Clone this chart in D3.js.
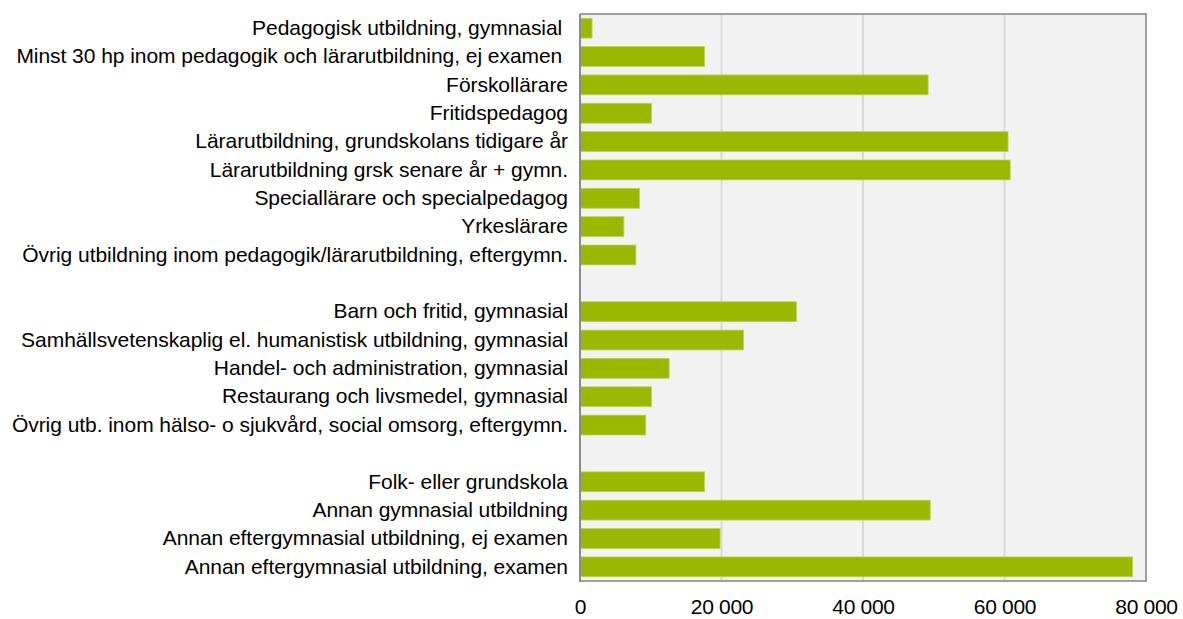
<!DOCTYPE html>
<html><head><meta charset="utf-8">
<script src="https://cdn.jsdelivr.net/npm/d3@7"></script>
<style>
html,body{margin:0;padding:0;background:#fff;}
svg{display:block;font-family:"Liberation Sans",Arial,sans-serif;}
</style></head>
<body><div id="chart"></div>
<script>
// Group 1: pedagogic education
const group1Labels = [
  "Pedagogisk utbildning, gymnasial ",
  "Minst 30 hp inom pedagogik och lärarutbildning, ej examen ",
  "Förskollärare",
  "Fritidspedagog",
  "Lärarutbildning, grundskolans tidigare år",
  "Lärarutbildning grsk senare år + gymn.",
  "Speciallärare och specialpedagog",
  "Yrkeslärare",
  "Övrig utbildning inom pedagogik/lärarutbildning, eftergymn."
];
const group1Values = [1700, 17600, 49200, 10100, 60500, 60800, 8400, 6200, 7900];

// Group 2: other related education
const group2Labels = [
  "Barn och fritid, gymnasial",
  "Samhällsvetenskaplig el. humanistisk utbildning, gymnasial",
  "Handel- och administration, gymnasial",
  "Restaurang och livsmedel, gymnasial",
  "Övrig utb. inom hälso- o sjukvård, social omsorg, eftergymn."
];
const group2Values = [30600, 23100, 12600, 10100, 9300];

// Group 3: general education
const group3Labels = [
  "Folk- eller grundskola",
  "Annan gymnasial utbildning",
  "Annan eftergymnasial utbildning, ej examen",
  "Annan eftergymnasial utbildning, examen"
];
const group3Values = [17600, 49500, 19800, 78100];

const xTicks = [0, 20000, 40000, 60000, 80000];

(function(){
// Build slot list (gaps between groups)
const rows = [];
group1Labels.forEach((l,i)=>rows.push({key:"a"+i,label:l,value:group1Values[i]}));
rows.push({key:"gap1",label:"",value:null});
group2Labels.forEach((l,i)=>rows.push({key:"b"+i,label:l,value:group2Values[i]}));
rows.push({key:"gap2",label:"",value:null});
group3Labels.forEach((l,i)=>rows.push({key:"c"+i,label:l,value:group3Values[i]}));

const W = 1183, H = 619;
const mLeft = 580, mRight = 1146, mTop = 14, mBottom = 581;

const svg = d3.select("#chart").append("svg").attr("width",W).attr("height",H);

const x = d3.scaleLinear().domain([0,80000]).range([mLeft,mRight]);
const y = d3.scaleBand().domain(rows.map(d=>d.key)).range([mTop,mBottom]).paddingInner(0.3).paddingOuter(0.15);

// plot background
svg.append("rect").attr("x",mLeft).attr("y",mTop).attr("width",mRight-mLeft).attr("height",mBottom-mTop).attr("fill","#f2f2f2");

// gridlines
svg.append("g").selectAll("line").data(xTicks.filter(t=>t>0 && t<80000)).join("line")
  .attr("x1",d=>x(d)).attr("x2",d=>x(d)).attr("y1",mTop).attr("y2",mBottom)
  .attr("stroke","#d9d9d9").attr("stroke-width",2);

// bars
svg.append("g").selectAll("rect").data(rows.filter(d=>d.value!=null)).join("rect")
  .attr("x",x(0)).attr("y",d=>y(d.key))
  .attr("width",d=>x(d.value)-x(0)).attr("height",y.bandwidth())
  .attr("fill","#9bb800").attr("stroke","#bcd35a").attr("stroke-width",0.8);

// plot border (top/right/bottom)
svg.append("path").attr("d",`M${mLeft},${mTop}H${mRight}V${mBottom}H${mLeft}`)
  .attr("fill","none").attr("stroke","#a0a0a0").attr("stroke-width",2);
// left axis line
svg.append("line").attr("x1",mLeft).attr("x2",mLeft).attr("y1",mTop).attr("y2",mBottom+1)
  .attr("stroke","#8c8c8c").attr("stroke-width",2);

// y axis labels
const yAxis = d3.axisLeft(y).tickSize(0).tickPadding(12).tickFormat(k=>rows.find(r=>r.key===k).label);
const gy = svg.append("g").attr("transform",`translate(${mLeft},0)`).call(yAxis);
gy.select(".domain").remove();
gy.selectAll("text").attr("font-size",21).attr("fill","#000")
  .attr("font-family","'Liberation Sans',Arial,sans-serif")
  .style("white-space","pre").attr("letter-spacing",-0.05);

// x axis labels
const fmt = d => d===0 ? "0" : d3.format(",")(d).replace(/,/g," ");
const xAxis = d3.axisBottom(x).tickValues(xTicks).tickSize(0).tickPadding(18).tickFormat(fmt);
const gx = svg.append("g").attr("transform",`translate(0,${mBottom})`).call(xAxis);
gx.select(".domain").remove();
gx.selectAll("text").attr("font-size",21).attr("fill","#000")
  .attr("font-family","'Liberation Sans',Arial,sans-serif").attr("letter-spacing",-0.3);
})();
</script></body></html>
